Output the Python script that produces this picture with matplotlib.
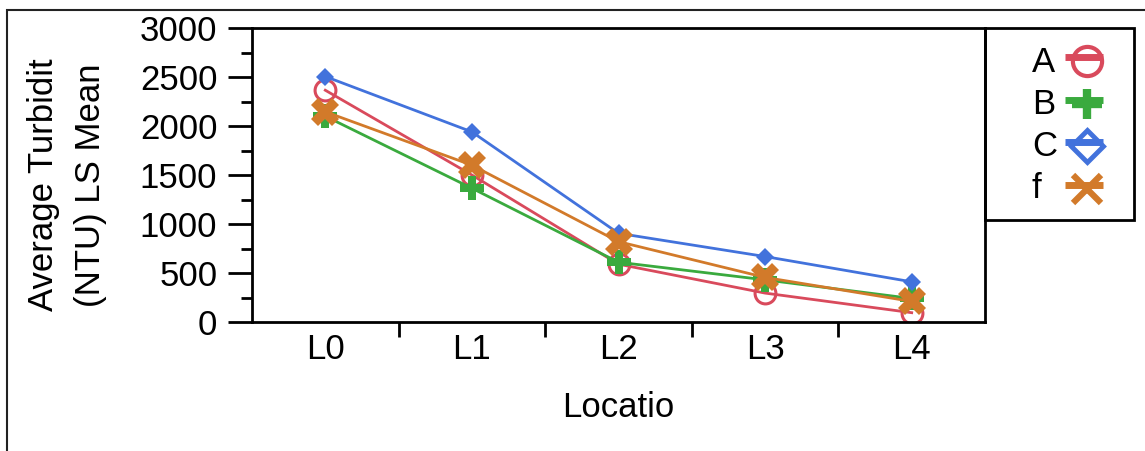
import matplotlib
matplotlib.use("Agg")
import matplotlib.pyplot as plt
from matplotlib.patches import Rectangle
from matplotlib.lines import Line2D
from matplotlib.ticker import MultipleLocator

plt.rcParams['font.family'] = ['Liberation Sans', 'DejaVu Sans']

locations = ["L0", "L1", "L2", "L3", "L4"]
series_names = ["A", "B", "C", "f"]
vals_a = [2365, 1500, 590, 295, 95]
vals_b = [2100, 1365, 610, 430, 240]
vals_c = [2505, 1940, 905, 668, 410]
vals_f = [2145, 1600, 820, 455, 210]

colors = ["#d94a5c", "#3aaa3e", "#4272dc", "#d27a2a"]
styles = [
    dict(marker="o", ms=15, mfc="none", mew=2.2),
    dict(marker="P", ms=17, mew=0),
    dict(marker="D", ms=9, mew=0),
    dict(marker="X", ms=20, mew=0),
]
# legend key markers (larger, outlined)
key_styles = [
    dict(marker="o", ms=21, mfc="none", mew=3),
    dict(marker="+", ms=22, mew=6),
    dict(marker="D", ms=16, mfc="none", mew=3.5),
    dict(marker="x", ms=20, mew=4.5),
]

W, H = 1145, 451
fs = 25

fig = plt.figure(figsize=(W / 100, H / 100), dpi=100)
# thin frame around the figure
fig.patches.append(Rectangle((7 / W, -0.1), 1.2, (H - 10) / H + 0.1,
                             transform=fig.transFigure, fill=False,
                             lw=1.5, ec="#222222"))

ax = fig.add_axes([252 / W, 1 - 322 / H, 733 / W, 294 / H])
x = list(range(len(locations)))
for name, vals, c, st in zip(series_names, [vals_a, vals_b, vals_c, vals_f], colors, styles):
    ax.plot(x, vals, color=c, lw=2, label=name, **st)

ax.set_xlim(-0.5, 4.5)
ax.set_ylim(0, 3000)
ax.yaxis.set_major_locator(MultipleLocator(500))
ax.yaxis.set_minor_locator(MultipleLocator(250))
ax.set_xticks([0.5, 1.5, 2.5, 3.5])
ax.set_xticklabels([])
ax.set_xticks(x, minor=True)
ax.set_xticklabels(locations, minor=True)
ax.tick_params(axis="x", which="major", length=11, width=2, direction="out")
ax.tick_params(axis="x", which="minor", length=0, pad=8, labelsize=fs)
ax.tick_params(axis="y", which="major", length=17, width=2, labelsize=fs, pad=8)
ax.tick_params(axis="y", which="minor", length=8, width=2)
for s in ax.spines.values():
    s.set_linewidth(2)

ax.set_ylabel("Average Turbidit\n(NTU) LS Mean", fontsize=fs, linespacing=1.55)
ax.yaxis.set_label_coords((107 - 252) / 733, (322 - 185) / 294)
ax.set_xlabel("Locatio", fontsize=fs, labelpad=18)

# legend: box, then label text left of a short thick line with the marker
fig.patches.append(Rectangle((985 / W, 1 - 220 / H), 149 / W, 192 / H,
                             transform=fig.transFigure, fill=False,
                             lw=2, ec="black"))
for i, (ln, ks) in enumerate(zip(ax.get_lines(), key_styles)):
    y_txt = 1 - (72 + 42 * i) / H
    y_line = 1 - (57 + 42.7 * i) / H
    y_mark = 1 - (61 + 42.7 * i) / H
    fig.text(1032 / W, y_txt, ln.get_label(), fontsize=fs, ha="left", va="baseline")
    fig.add_artist(Line2D([1065 / W, 1103 / W], [y_line, y_line],
                          color=ln.get_color(), lw=5, solid_capstyle="butt"))
    fig.add_artist(Line2D([1087 / W], [y_mark], color=ln.get_color(),
                          mec=ln.get_color(), **ks))

fig.savefig("out.png", dpi=100)
